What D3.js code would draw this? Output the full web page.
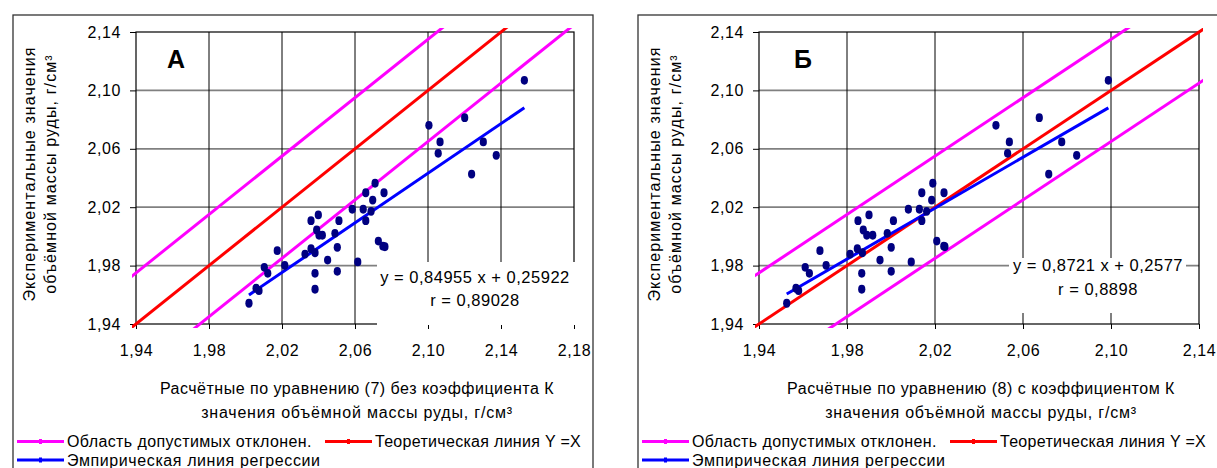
<!DOCTYPE html>
<html>
<head>
<meta charset="utf-8">
<script src="https://cdn.jsdelivr.net/npm/d3@7"></script>
<style>
body { margin: 0; background: #fff; }
svg text { font-family: Arial, "Liberation Sans", sans-serif; fill: #000; }
</style>
</head>
<body>
<svg id="chart" width="1217" height="468"></svg>
<script>
// experimental values (y), same samples in both panels
const expY = [1.9542, 1.9645, 1.9628, 1.9788, 1.9747, 1.9902, 1.9802, 1.9879, 1.9916, 1.9888,
    2.0108, 2.0147, 2.0044, 2.0008, 2.0008, 1.9747, 1.9638, 1.9838, 1.9925, 2.0021,
    2.0108, 1.9761, 2.0186, 1.9825, 2.0186, 2.0108, 2.0172, 2.0249, 2.0299, 2.0364,
    2.0299, 1.9968, 1.9929, 1.9933, 2.0761, 2.0647, 2.0569, 2.0813, 2.0647, 2.0555,
    2.0427, 2.1069]

// calculated by eq. (7), without K  (panel A)
const calcA = [2.0019, 2.0058, 2.0074, 2.0103, 2.0122, 2.0174, 2.0215, 2.0326, 2.0359, 2.0381,
    2.0359, 2.0399, 2.0390, 2.0403, 2.0421, 2.0381, 2.0381, 2.0450, 2.0503, 2.0490,
    2.0512, 2.0503, 2.0585, 2.0615, 2.0645, 2.0659, 2.0688, 2.0697, 2.0659, 2.0710,
    2.0759, 2.0728, 2.0764, 2.0753, 2.1005, 2.1066, 2.1056, 2.1201, 2.1303, 2.1374,
    2.1239, 2.1528]

// calculated by eq. (8), with K  (panel B)
const calcB = [1.9526, 1.9568, 1.9580, 1.9610, 1.9629, 1.9677, 1.9705, 1.9814, 1.9847, 1.9870,
    1.9850, 1.9900, 1.9874, 1.9890, 1.9917, 1.9867, 1.9867, 1.9950, 2.0001, 1.9983,
    2.0011, 2.0001, 2.0079, 2.0092, 2.0129, 2.0140, 2.0162, 2.0185, 2.0140, 2.0190,
    2.0241, 2.0208, 2.0245, 2.0240, 2.0477, 2.0538, 2.0530, 2.0674, 2.0776, 2.0844,
    2.0717, 2.0988]

const yTicks = [1.94, 1.98, 2.02, 2.06, 2.10, 2.14]
const xTicksA = [1.94, 1.98, 2.02, 2.06, 2.10, 2.14, 2.18]
const xTicksB = [1.94, 1.98, 2.02, 2.06, 2.10, 2.14]

const regA = {k: 0.84955, b: 0.25922, r: '0,89028', eq: 'y = 0,84955 x + 0,25922'}
const regB = {k: 0.8721, b: 0.2577, r: '0,8898', eq: 'y = 0,8721 x + 0,2577'}
const tolerance = 0.035  // допустимое отклонение

const legendLabels = ['Область допустимых отклонен.', 'Теоретическая линия Y =X', 'Эмпирическая линия регрессии']

const svg = d3.select('#chart')
const fmt = v => d3.format('.2f')(v).replace('.', ',')

function drawPanel(p) {
    const g = svg.append('g')

    // outer chart frame
    g.append('rect')
        .attr('x', p.frameX).attr('y', 15)
        .attr('width', p.frameW).attr('height', 470)
        .attr('fill', 'none').attr('stroke', '#333').attr('stroke-width', 1.3)

    const x = d3.scaleLinear().domain(d3.extent(p.xTicks)).range([p.left, p.right])
    const y = d3.scaleLinear().domain(d3.extent(yTicks)).range([324, 32])

    // grid
    g.append('g').selectAll('line')
        .data(yTicks.slice(1, -1))
        .enter().append('line')
        .attr('x1', p.left).attr('x2', p.right)
        .attr('y1', d => y(d)).attr('y2', d => y(d))
        .attr('stroke', '#808080').attr('stroke-width', 1.8)
    g.append('g').selectAll('line')
        .data(p.xTicks.slice(1, -1))
        .enter().append('line')
        .attr('x1', d => x(d)).attr('x2', d => x(d))
        .attr('y1', y(2.14)).attr('y2', y(1.94))
        .attr('stroke', '#000').attr('stroke-width', 1)

    // plot border
    g.append('rect')
        .attr('x', p.left).attr('y', y(2.14))
        .attr('width', p.right - p.left).attr('height', y(1.94) - y(2.14))
        .attr('fill', 'none').attr('stroke', '#000').attr('stroke-width', 1.2)

    // axes
    const ax = g.append('g').attr('transform', `translate(${p.left},0)`)
        .call(d3.axisLeft(y).tickValues(yTicks).tickFormat(fmt).tickSizeInner(6).tickSizeOuter(0).tickPadding(9))
    const bx = g.append('g').attr('transform', `translate(0,${y(1.94)})`)
        .call(d3.axisBottom(x).tickValues(p.xTicks).tickFormat(fmt).tickSizeInner(5).tickSizeOuter(0).tickPadding(16))
    ;[ax, bx].forEach(a => {
        a.attr('font-family', null).attr('font-size', null)
        a.select('.domain').remove()
        a.selectAll('line').attr('stroke', '#000')
        a.selectAll('text').style('font-size', '16px').style('letter-spacing', '0.6px')
    })

    // equation box
    g.append('rect')
        .attr('x', p.box[0]).attr('y', p.box[1])
        .attr('width', p.box[2]).attr('height', p.box[3])
        .attr('fill', '#fff')
    g.append('text').attr('x', p.eqX).attr('y', p.eqY)
        .attr('text-anchor', 'middle').style('font-size', '16.5px').style('letter-spacing', '0.5px').text(p.reg.eq)
    g.append('text').attr('x', p.eqX).attr('y', p.eqY + p.eqGap)
        .attr('text-anchor', 'middle').style('font-size', '16.5px').style('letter-spacing', '0.5px').text('r = ' + p.reg.r)

    // lines, clipped a little outside the plot area
    const clipId = 'clip' + p.name
    svg.append('clipPath').attr('id', clipId).append('rect')
        .attr('x', p.left - 4).attr('y', y(2.14) - 4)
        .attr('width', p.right - p.left + 8).attr('height', y(1.94) - y(2.14) + 8)
    const lines = g.append('g').attr('clip-path', `url(#${clipId})`)
    const x0 = 1.90, x1 = p.xTicks[p.xTicks.length - 1] + 0.02
    const line = d3.line().x(d => x(d[0])).y(d => y(d[1]))

    lines.append('path').datum([[x0, x0 + tolerance], [x1, x1 + tolerance]])
        .attr('d', line).attr('stroke', '#ff00ff').attr('stroke-width', 3).attr('fill', 'none')
    lines.append('path').datum([[x0, x0 - tolerance], [x1, x1 - tolerance]])
        .attr('d', line).attr('stroke', '#ff00ff').attr('stroke-width', 3).attr('fill', 'none')
    lines.append('path').datum([[x0, x0], [x1, x1]])
        .attr('d', line).attr('stroke', '#ff0000').attr('stroke-width', 3).attr('fill', 'none')

    const ext = d3.extent(p.xs)
    lines.append('path').datum(ext.map(v => [v, p.reg.k * v + p.reg.b]))
        .attr('d', line).attr('stroke', '#0000ff').attr('stroke-width', 3).attr('fill', 'none')

    // points
    g.append('g').selectAll('ellipse')
        .data(p.xs.map((v, i) => [v, expY[i]]))
        .enter().append('ellipse')
        .attr('cx', d => x(d[0])).attr('cy', d => y(d[1]))
        .attr('rx', 3.6).attr('ry', 4.4)
        .attr('fill', '#000080')

    // panel letter
    g.append('text').attr('x', p.letterX).attr('y', 68)
        .style('font-size', '25px').style('font-weight', 'bold').text(p.name)

    // axis titles
    const cx = (p.left + p.right) / 2 + 2
    g.append('text').attr('x', cx).attr('y', 394).attr('text-anchor', 'middle')
        .style('font-size', '16px').style('letter-spacing', '0.5px').text(p.xTitle)
    g.append('text').attr('x', cx).attr('y', 418).attr('text-anchor', 'middle')
        .style('font-size', '16px').style('letter-spacing', '0.8px').text('значения объёмной массы руды, г/см³')

    const yt = g.append('text').attr('transform', `translate(${p.frameX + 22},174) rotate(-90)`)
        .attr('text-anchor', 'middle').style('font-size', '16px').style('letter-spacing', '1.1px')
    yt.append('tspan').attr('x', 0).attr('y', 0).text('Экспериментальные значения')
    yt.append('tspan').attr('x', 0).attr('y', 21).text('объёмной массы руды, г/см³')

    // legend
    const items = [
        {label: legendLabels[0], color: '#ff00ff', dx: 4, y: 441.5, ls: 0.4},
        {label: legendLabels[1], color: '#ff0000', dx: 312, y: 441.5, ls: 0.3},
        {label: legendLabels[2], color: '#0000ff', dx: 4, y: 460, ls: 0.6}
    ]
    const lg = g.append('g').selectAll('g').data(items).enter().append('g')
        .attr('transform', d => `translate(${p.frameX + d.dx},${d.y})`)
    lg.append('line').attr('x1', 0).attr('x2', 47)
        .attr('stroke', d => d.color).attr('stroke-width', 3)
    lg.append('rect').attr('x', 22).attr('y', -2.5).attr('width', 3).attr('height', 5)
        .attr('fill', d => d.color)
    lg.append('text').attr('x', 50).attr('y', 5.5).style('font-size', '16px')
        .style('letter-spacing', d => d.ls + 'px').text(d => d.label)
}

drawPanel({
    name: 'А', frameX: 13, frameW: 580, left: 136, right: 574, xTicks: xTicksA, xs: calcA, reg: regA,
    box: [377, 262, 209, 63], eqX: 475, eqY: 283, eqGap: 23, letterX: 167,
    xTitle: 'Расчётные по уравнению (7) без коэффициента К'
})
drawPanel({
    name: 'Б', frameX: 638, frameW: 600, left: 759, right: 1199, xTicks: xTicksB, xs: calcB, reg: regB,
    box: [1009, 258, 177, 55], eqX: 1098, eqY: 271, eqGap: 24, letterX: 794,
    xTitle: 'Расчётные по уравнению (8) с коэффициентом К'
})
</script>
</body>
</html>
